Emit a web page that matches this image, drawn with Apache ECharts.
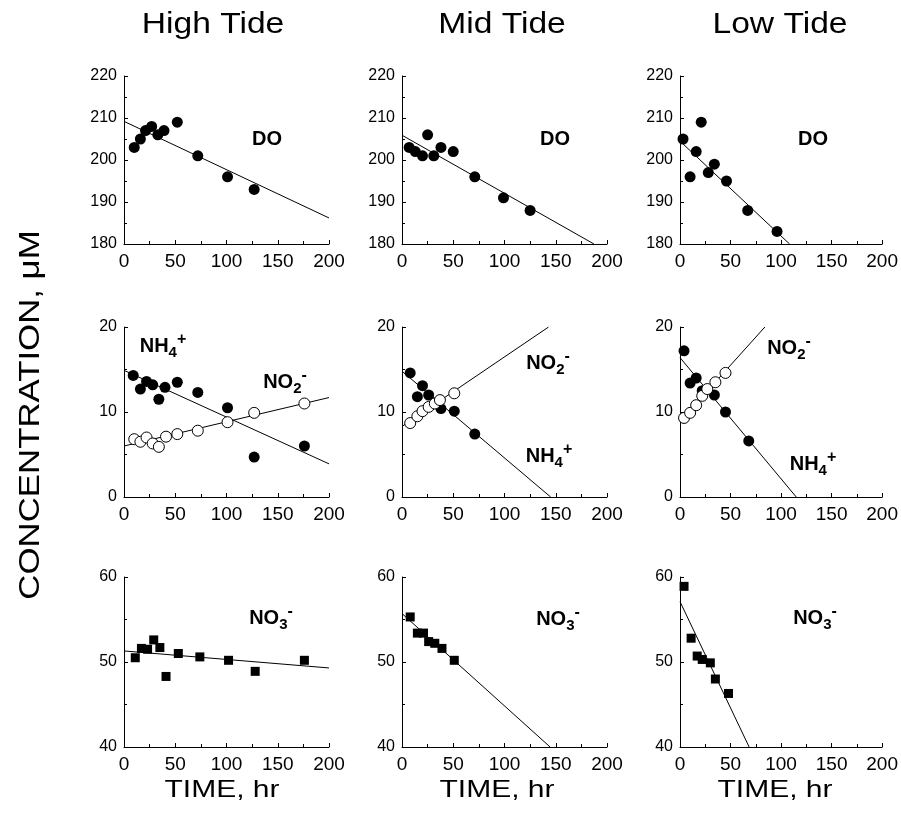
<!DOCTYPE html>
<html>
<head>
<meta charset="utf-8">
<script src="https://cdn.jsdelivr.net/npm/echarts@6/dist/echarts.min.js"></script>
<style>html,body{margin:0;padding:0;background:#fff}#c{width:901px;height:816px}</style>
</head>
<body>
<div id="c"></div>
<script>
// ---------- data ----------
const tides = ['High Tide', 'Mid Tide', 'Low Tide'];
const timeTicks = [0, 50, 100, 150, 200];
const doTicks = [180, 190, 200, 210, 220];
const nhTicks = [0, 10, 20];
const no3Ticks = [40, 50, 60];

// DO
const doHighT = [10, 16, 21, 27, 33, 39, 52, 72, 101, 127];
const doHighV = [203, 205, 207, 208, 206, 207, 209, 201, 196, 193];
const doHighFit = [[0, 209.2], [200, 186.2]];
const doMidT = [7, 13, 20, 25, 31, 38, 50, 71, 99, 125];
const doMidV = [203, 202, 201, 206, 201, 203, 202, 196, 191, 188];
const doMidFit = [[0, 205.9], [187.3, 180]];
const doLowT = [3, 10, 16, 21, 28, 34, 46, 67, 96];
const doLowV = [205, 196, 202, 209, 197, 199, 195, 188, 183];
const doLowFit = [[0, 204.5], [108.4, 180]];

// NH4+ (filled) and NO2- (open)
const nhHighT = [9, 16, 22, 28, 34, 40, 52, 72, 101, 127, 176];
const nhHighV = [14.3, 12.7, 13.6, 13.2, 11.5, 12.9, 13.5, 12.3, 10.5, 4.7, 6.0];
const nhHighFit = [[0, 14.9], [200, 3.9]];
const no2HighT = [10, 16, 22, 28, 34, 41, 52, 72, 101, 127, 176];
const no2HighV = [6.8, 6.5, 7.0, 6.3, 5.9, 7.1, 7.4, 7.8, 8.8, 9.9, 11.0];
const no2HighFit = [[0, 6.0], [200, 11.7]];

const nhMidT = [8, 15, 20, 26, 38, 51, 71];
const nhMidV = [14.6, 11.8, 13.1, 12.0, 10.4, 10.1, 7.4];
const nhMidFit = [[0, 14.8], [145, 0]];
const no2MidT = [8, 15, 20, 26, 32, 37, 51];
const no2MidV = [8.7, 9.5, 10.1, 10.6, 11.0, 11.4, 12.2];
const no2MidFit = [[0, 8.3], [143, 20]];

const nhLowT = [4, 10, 16, 22, 34, 45, 68];
const nhLowV = [17.2, 13.4, 14.0, 12.5, 12.0, 10.0, 6.6];
const nhLowFit = [[0, 16.4], [115, 0]];
const no2LowT = [4, 10, 16, 22, 27, 35, 45];
const no2LowV = [9.3, 9.9, 10.8, 11.9, 12.7, 13.5, 14.6];
const no2LowFit = [[0, 8.9], [84, 20]];

// NO3-
const no3HighT = [11, 17, 23, 29, 35, 41, 53, 74, 102, 128, 176];
const no3HighV = [50.5, 51.6, 51.5, 52.6, 51.7, 48.3, 51.0, 50.6, 50.2, 48.9, 50.2];
const no3HighFit = [[0, 51.3], [200, 49.3]];
const no3MidT = [8, 15, 21, 26, 32, 39, 51];
const no3MidV = [55.3, 53.4, 53.4, 52.4, 52.2, 51.6, 50.2];
const no3MidFit = [[0, 55.7], [144.5, 40]];
const no3LowT = [4, 11, 17, 22, 30, 35, 48];
const no3LowV = [58.9, 52.8, 50.7, 50.3, 49.9, 48.0, 46.3];
const no3LowFit = [[0, 57.1], [68.4, 40]];

// ---------- layout ----------
const FONT = '"Liberation Sans", Arial, Helvetica, sans-serif';
const colLeft = [124, 402, 680];
const colWidth = 205;
const rowTop = [76, 327, 577];
const rowHeight = [168, 170, 170];
const rowTicks = [doTicks, nhTicks, no3Ticks];

const zip = (a, b) => a.map((v, i) => [v, b[i]]);

const panels = [
  [{ t: doHighT, v: doHighV, fit: doHighFit, sym: 'filled' }],
  [{ t: doMidT, v: doMidV, fit: doMidFit, sym: 'filled' }],
  [{ t: doLowT, v: doLowV, fit: doLowFit, sym: 'filled' }],
  [{ t: nhHighT, v: nhHighV, fit: nhHighFit, sym: 'filled' }, { t: no2HighT, v: no2HighV, fit: no2HighFit, sym: 'open' }],
  [{ t: nhMidT, v: nhMidV, fit: nhMidFit, sym: 'filled' }, { t: no2MidT, v: no2MidV, fit: no2MidFit, sym: 'open' }],
  [{ t: nhLowT, v: nhLowV, fit: nhLowFit, sym: 'filled' }, { t: no2LowT, v: no2LowV, fit: no2LowFit, sym: 'open' }],
  [{ t: no3HighT, v: no3HighV, fit: no3HighFit, sym: 'square' }],
  [{ t: no3MidT, v: no3MidV, fit: no3MidFit, sym: 'square' }],
  [{ t: no3LowT, v: no3LowV, fit: no3LowFit, sym: 'square' }]
];

const grids = [], xAxes = [], yAxes = [], series = [];
for (let r = 0; r < 3; r++) {
  for (let c = 0; c < 3; c++) {
    const idx = r * 3 + c;
    const ticks = rowTicks[r];
    grids.push({ left: colLeft[c], top: rowTop[r], width: colWidth, height: rowHeight[r], containLabel: false });
    xAxes.push({
      gridIndex: idx, type: 'value',
      min: timeTicks[0], max: timeTicks[timeTicks.length - 1], interval: timeTicks[1] - timeTicks[0],
      axisLine: { show: true, onZero: false, lineStyle: { color: '#000', width: 1 } },
      axisTick: { show: true, inside: true, length: 4, lineStyle: { color: '#000' } },
      minorTick: { show: true, splitNumber: 2, length: 3, lineStyle: { color: '#000' } },
      splitLine: { show: false },
      axisLabel: { color: '#000', fontSize: 19, fontFamily: FONT, margin: 8, showMinLabel: true, showMaxLabel: true }
    });
    yAxes.push({
      gridIndex: idx, type: 'value',
      min: ticks[0], max: ticks[ticks.length - 1], interval: ticks[1] - ticks[0],
      axisLine: { show: true, onZero: false, lineStyle: { color: '#000', width: 1 } },
      axisTick: { show: true, inside: true, length: 4, lineStyle: { color: '#000' } },
      minorTick: { show: true, splitNumber: 2, length: 3, lineStyle: { color: '#000' } },
      splitLine: { show: false },
      axisLabel: { color: '#000', fontSize: 16, fontFamily: FONT, margin: 7, showMinLabel: true, showMaxLabel: true }
    });
    panels[idx].forEach(s => {
      series.push({
        type: 'line', xAxisIndex: idx, yAxisIndex: idx, data: s.fit,
        showSymbol: false, symbol: 'none', clip: true, silent: true,
        lineStyle: { color: '#000', width: 1 }, z: 2
      });
    });
    panels[idx].forEach(s => {
      let sym = 'circle', size = 11, style = { color: '#000', opacity: 1 }, z = 3;
      if (s.sym === 'open') { style = { color: '#fff', borderColor: '#000', borderWidth: 1, opacity: 1 }; z = 4; }
      if (s.sym === 'square') { sym = 'rect'; size = 9; }
      series.push({
        type: 'scatter', xAxisIndex: idx, yAxisIndex: idx, data: zip(s.t, s.v),
        symbol: sym, symbolSize: size, itemStyle: style, z: z, silent: true
      });
    });
  }
}

// ---------- annotations ----------
const richStyles = {
  m: { fontSize: 20, fontWeight: 'bold', fontFamily: FONT, fill: '#000', lineHeight: 28 },
  s: { fontSize: 15, fontWeight: 'bold', fontFamily: FONT, fill: '#000', lineHeight: 12, verticalAlign: 'bottom' },
  p: { fontSize: 16, fontWeight: 'bold', fontFamily: FONT, fill: '#000', lineHeight: 10, verticalAlign: 'top' }
};
const NH4 = '{m|NH}{s|4}{p|+}';
const NO2 = '{m|NO}{s|2}{p|-}';
const NO3 = '{m|NO}{s|3}{p|-}';
const labels = [
  ['{m|DO}', 267, 139], ['{m|DO}', 555, 139], ['{m|DO}', 813, 139],
  [NH4, 163, 346], [NO2, 285, 382],
  [NO2, 548, 363], [NH4, 549, 456],
  [NO2, 789, 348], [NH4, 813, 464],
  [NO3, 271, 618], [NO3, 558, 619], [NO3, 815, 618]
];

const graphics = [];
labels.forEach(([txt, x, y]) => {
  graphics.push({ type: 'text', x: x, y: y, silent: true,
    style: { text: txt, rich: richStyles, textAlign: 'center', textVerticalAlign: 'middle', fill: '#000' } });
});
const titleX = [213, 502, 780];
tides.forEach((t, i) => {
  graphics.push({ type: 'text', x: titleX[i], y: 25, scaleX: 1.12, silent: true,
    style: { text: t, font: '30px ' + FONT, fill: '#000', textAlign: 'center', textVerticalAlign: 'middle' } });
});
const timeX = [222, 497, 775];
timeX.forEach(x => {
  graphics.push({ type: 'text', x: x, y: 790, scaleX: 1.25, silent: true,
    style: { text: 'TIME, hr', font: '24px ' + FONT, fill: '#000', textAlign: 'center', textVerticalAlign: 'middle' } });
});
graphics.push({ type: 'text', x: 31, y: 415, rotation: Math.PI / 2, scaleX: 1.2, silent: true,
  style: { text: 'CONCENTRATION, \u03bcM', font: '29px ' + FONT, fill: '#000', textAlign: 'center', textVerticalAlign: 'middle' } });

const chart = echarts.init(document.getElementById('c'), null, { renderer: 'canvas' });
chart.setOption({
  animation: false,
  backgroundColor: '#fff',
  grid: grids, xAxis: xAxes, yAxis: yAxes, series: series,
  graphic: graphics
});
</script>
</body>
</html>
